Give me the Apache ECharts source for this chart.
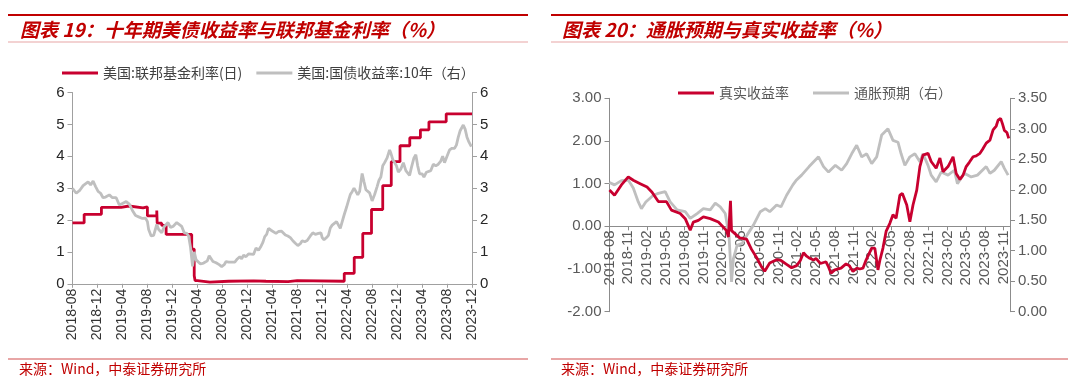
<!DOCTYPE html>
<html><head><meta charset="utf-8">
<script src="https://cdn.jsdelivr.net/npm/echarts@6/dist/echarts.min.js"></script>
<style>html,body{margin:0;padding:0;background:#fff}#c{width:1080px;height:391px}</style>
</head><body><div id="c"></div>
<script>
// ---------- texts ----------
const title1 = '图表 19：十年期美债收益率与联邦基金利率（%）';
const title2 = '图表 20：通胀预期与真实收益率（%）';
const sourceText = '来源：Wind，中泰证券研究所';
const names1 = ['美国:联邦基金利率(日)', '美国:国债收益率:10年（右）'];
const names2 = ['真实收益率', '通胀预期（右）'];

// ---------- tick labels ----------
const xLabels1 = ['2018-08','2018-12','2019-04','2019-08','2019-12','2020-04','2020-08','2020-12','2021-04','2021-08','2021-12','2022-04','2022-08','2022-12','2023-04','2023-08','2023-12'];
const xLabels2 = ['2018-08','2018-11','2019-02','2019-05','2019-08','2019-11','2020-02','2020-05','2020-08','2020-11','2021-02','2021-05','2021-08','2021-11','2022-02','2022-05','2022-08','2022-11','2023-02','2023-05','2023-08','2023-11'];

// ---------- data: chart 1 ----------
const fedFunds = [['2018-08-01',1.91],['2018-09-27',2.18],['2018-12-20',2.40],['2019-03-25',2.44],['2019-05-02',2.38],['2019-07-10',2.41],['2019-08-01',2.13],['2019-09-16',2.30],['2019-09-18',1.90],['2019-10-10',1.83],['2019-10-31',1.55],['2020-03-04',1.09],['2020-03-16',0.25],['2020-03-20',0.10],['2020-04-01',0.05],['2020-06-01',0.08],['2020-09-01',0.09],['2021-01-01',0.08],['2021-03-01',0.07],['2021-06-17',0.10],['2021-08-01',0.08],['2022-03-17',0.33],['2022-05-05',0.83],['2022-06-16',1.58],['2022-07-28',2.33],['2022-09-22',3.08],['2022-11-03',3.83],['2022-12-15',4.33],['2023-02-02',4.58],['2023-03-23',4.83],['2023-05-04',5.08],['2023-07-27',5.33],['2023-12-01',5.33]];
const us10y = [['2018-08-01',2.99],['2018-08-19',2.84],['2018-09-07',2.94],['2018-09-22',3.08],['2018-10-16',3.20],['2018-10-28',3.10],['2018-11-10',3.22],['2018-11-22',3.05],['2018-12-04',2.90],['2018-12-16',2.84],['2018-12-28',2.70],['2019-01-10',2.72],['2019-01-28',2.79],['2019-02-13',2.70],['2019-03-01',2.70],['2019-03-16',2.47],['2019-04-01',2.52],['2019-04-19',2.58],['2019-05-04',2.50],['2019-05-19',2.30],['2019-06-04',2.14],['2019-06-19',2.10],['2019-07-07',2.05],['2019-07-22',2.06],['2019-08-01',1.95],['2019-08-07',1.70],['2019-08-19',1.50],['2019-09-01',1.52],['2019-09-16',1.86],['2019-09-25',1.70],['2019-10-10',1.60],['2019-10-22',1.80],['2019-10-28',1.84],['2019-11-10',1.92],['2019-11-22',1.77],['2019-12-04',1.80],['2019-12-22',1.92],['2020-01-01',1.90],['2020-01-16',1.80],['2020-01-28',1.60],['2020-02-10',1.58],['2020-02-19',1.50],['2020-02-28',1.15],['2020-03-04',0.80],['2020-03-08',0.55],['2020-03-16',1.00],['2020-03-25',0.75],['2020-04-16',0.62],['2020-05-01',0.65],['2020-05-19',0.72],['2020-05-28',0.88],['2020-06-04',0.85],['2020-06-16',0.70],['2020-07-01',0.66],['2020-07-16',0.60],['2020-07-28',0.54],['2020-08-10',0.60],['2020-08-19',0.70],['2020-09-01',0.68],['2020-09-16',0.68],['2020-10-01',0.68],['2020-10-13',0.78],['2020-10-25',0.85],['2020-11-04',0.78],['2020-11-13',0.90],['2020-11-25',0.85],['2020-12-07',0.94],['2020-12-19',0.93],['2021-01-01',0.92],['2021-01-13',1.12],['2021-01-25',1.05],['2021-02-07',1.18],['2021-02-16',1.30],['2021-02-25',1.48],['2021-03-04',1.55],['2021-03-13',1.74],['2021-03-25',1.68],['2021-04-04',1.72],['2021-04-19',1.58],['2021-05-01',1.64],['2021-05-16',1.65],['2021-06-04',1.53],['2021-06-16',1.50],['2021-06-28',1.45],['2021-07-10',1.35],['2021-07-22',1.27],['2021-08-04',1.20],['2021-08-16',1.26],['2021-08-25',1.35],['2021-09-07',1.32],['2021-09-19',1.36],['2021-10-04',1.50],['2021-10-16',1.60],['2021-10-28',1.55],['2021-11-13',1.58],['2021-11-25',1.60],['2021-12-01',1.45],['2021-12-10',1.38],['2021-12-22',1.45],['2022-01-01',1.52],['2022-01-10',1.75],['2022-01-19',1.84],['2022-01-28',1.78],['2022-02-10',1.95],['2022-02-19',1.93],['2022-02-28',1.74],['2022-03-07',1.78],['2022-03-16',2.15],['2022-03-28',2.40],['2022-04-07',2.60],['2022-04-16',2.80],['2022-04-25',2.89],['2022-05-04',3.00],['2022-05-13',2.90],['2022-05-22',2.79],['2022-06-01',2.90],['2022-06-13',3.46],['2022-06-22',3.20],['2022-07-01',2.95],['2022-07-10',2.99],['2022-07-19',2.85],['2022-08-01',2.60],['2022-08-13',2.80],['2022-08-25',3.05],['2022-09-04',3.25],['2022-09-13',3.35],['2022-09-22',3.70],['2022-10-01',3.80],['2022-10-13',3.95],['2022-10-25',4.20],['2022-11-01',4.10],['2022-11-10',3.90],['2022-11-19',3.80],['2022-11-28',3.70],['2022-12-07',3.50],['2022-12-19',3.60],['2023-01-01',3.80],['2023-01-13',3.55],['2023-01-22',3.50],['2023-02-01',3.40],['2023-02-10',3.65],['2023-02-22',3.95],['2023-03-01',4.05],['2023-03-10',3.70],['2023-03-19',3.45],['2023-04-01',3.45],['2023-04-10',3.35],['2023-04-22',3.50],['2023-05-01',3.45],['2023-05-13',3.55],['2023-05-25',3.75],['2023-06-07',3.70],['2023-06-19',3.75],['2023-07-01',3.85],['2023-07-10',4.00],['2023-07-19',3.80],['2023-08-01',4.00],['2023-08-13',4.20],['2023-08-25',4.25],['2023-09-07',4.25],['2023-09-16',4.35],['2023-09-25',4.60],['2023-10-04',4.80],['2023-10-19',4.98],['2023-10-28',4.85],['2023-11-07',4.60],['2023-11-16',4.45],['2023-11-28',4.30]];

// ---------- data: chart 2 ----------
const realYield = [['2018-08-01',0.85],['2018-08-25',0.73],['2018-09-28',0.97],['2018-11-01',1.16],['2018-11-25',1.08],['2018-12-28',1.00],['2019-02-01',0.92],['2019-02-25',0.80],['2019-03-25',0.58],['2019-05-04',0.58],['2019-05-28',0.38],['2019-07-10',0.30],['2019-08-04',0.18],['2019-08-28',-0.09],['2019-09-13',0.10],['2019-10-07',0.14],['2019-11-01',0.22],['2019-12-04',0.18],['2020-01-13',0.10],['2020-02-07',-0.02],['2020-02-22',-0.10],['2020-03-01',-0.25],['2020-03-11',0.60],['2020-03-16',-0.10],['2020-03-25',-0.10],['2020-04-25',-0.27],['2020-05-28',-0.30],['2020-06-22',-0.54],['2020-07-16',-0.73],['2020-08-10',-0.95],['2020-08-25',-1.05],['2020-09-19',-0.86],['2020-10-22',-0.78],['2020-11-13',-0.80],['2020-12-10',-0.89],['2021-01-04',-0.97],['2021-01-28',-0.92],['2021-02-16',-0.80],['2021-03-01',-0.62],['2021-03-16',-0.70],['2021-04-01',-0.75],['2021-04-19',-0.79],['2021-05-01',-0.75],['2021-05-22',-0.87],['2021-06-19',-0.83],['2021-07-01',-0.95],['2021-07-13',-1.10],['2021-08-01',-1.02],['2021-09-01',-0.98],['2021-09-25',-0.88],['2021-10-10',-0.92],['2021-10-28',-1.06],['2021-11-16',-0.98],['2021-12-01',-1.00],['2021-12-16',-0.98],['2022-01-01',-0.79],['2022-01-28',-0.51],['2022-02-13',-0.51],['2022-02-28',-1.02],['2022-03-07',-0.80],['2022-03-22',-0.51],['2022-04-07',-0.12],['2022-04-25',0.07],['2022-05-10',0.27],['2022-05-25',0.19],['2022-06-13',0.73],['2022-06-25',0.77],['2022-07-16',0.50],['2022-08-01',0.11],['2022-08-16',0.50],['2022-09-04',0.85],['2022-09-19',1.40],['2022-10-04',1.67],['2022-10-28',1.71],['2022-11-13',1.52],['2022-12-07',1.36],['2022-12-25',1.60],['2023-01-10',1.28],['2023-02-04',1.40],['2023-02-28',1.63],['2023-03-13',1.24],['2023-04-01',1.10],['2023-04-16',1.20],['2023-05-01',1.40],['2023-05-16',1.50],['2023-06-04',1.63],['2023-06-19',1.65],['2023-07-07',1.71],['2023-07-19',1.80],['2023-08-07',1.95],['2023-08-25',2.02],['2023-09-10',2.26],['2023-09-25',2.35],['2023-10-04',2.49],['2023-10-16',2.53],['2023-10-25',2.40],['2023-11-04',2.25],['2023-11-16',2.20],['2023-11-25',2.06]];
const breakeven = [['2018-08-01',2.12],['2018-08-25',2.08],['2018-09-28',2.15],['2018-11-01',2.16],['2018-11-25',2.03],['2018-12-19',1.80],['2019-01-04',1.69],['2019-01-25',1.80],['2019-03-01',1.91],['2019-03-25',1.94],['2019-04-28',1.97],['2019-05-22',1.80],['2019-06-25',1.67],['2019-08-04',1.64],['2019-08-28',1.53],['2019-10-01',1.61],['2019-11-01',1.69],['2019-12-04',1.67],['2019-12-28',1.78],['2020-01-22',1.72],['2020-02-16',1.61],['2020-03-04',1.25],['2020-03-16',0.49],['2020-03-25',0.87],['2020-04-13',1.09],['2020-05-07',1.12],['2020-06-01',1.26],['2020-07-01',1.42],['2020-08-04',1.64],['2020-08-28',1.69],['2020-09-19',1.64],['2020-10-22',1.75],['2020-11-13',1.72],['2020-12-10',1.91],['2021-01-10',2.08],['2021-01-25',2.15],['2021-02-22',2.24],['2021-03-28',2.38],['2021-05-13',2.54],['2021-06-07',2.38],['2021-07-01',2.29],['2021-08-04',2.40],['2021-09-04',2.32],['2021-09-28',2.43],['2021-10-22',2.59],['2021-11-16',2.73],['2021-12-10',2.54],['2022-01-04',2.59],['2022-01-28',2.43],['2022-02-22',2.54],['2022-03-16',2.90],['2022-04-16',3.00],['2022-05-10',2.81],['2022-06-04',2.78],['2022-06-19',2.59],['2022-07-07',2.40],['2022-08-01',2.54],['2022-08-25',2.59],['2022-09-19',2.46],['2022-10-04',2.59],['2022-10-28',2.40],['2022-11-13',2.24],['2022-12-07',2.13],['2023-01-01',2.29],['2023-02-04',2.24],['2023-03-04',2.32],['2023-03-19',2.10],['2023-04-22',2.27],['2023-05-25',2.21],['2023-06-25',2.24],['2023-08-07',2.38],['2023-08-25',2.27],['2023-09-16',2.32],['2023-10-19',2.46],['2023-11-04',2.35],['2023-11-22',2.24]];

// ---------- helpers ----------
// month index counted from 2018-08 (the axis origin)
function toM(s){ const p = s.split('-').map(Number); return (p[0]-2018)*12 + (p[1]-8) + (p[2]-1)/30; }
const conv = arr => arr.map(d => [toM(d[0]), d[1]]);

const RED = '#C8002F', GRAY = '#BFBFBF', TITLE_RED = '#C00000', PINK = '#E8A6A6';
const NUM_FONT = '"Liberation Sans", Arial, sans-serif';
const CJK_FONT = '"Noto Sans CJK SC", sans-serif';
const LW = 2.8;

const G1 = {left: 72.5, top: 92.5, width: 399.5, height: 191.3};
const G2 = {left: 609.5, top: 98.3, width: 400.5, height: 213.4};
const Y2MIN = -2, Y2MAX = 3;
// move chart-2 x axis up from the grid bottom to the zero line of its left axis
const X2_OFFSET = -G2.height * (0 - Y2MIN) / (Y2MAX - Y2MIN);

const chart = echarts.init(document.getElementById('c'), null, {renderer: 'canvas'});

function yAx(grid, pos, min, max, interval, lblColor, fmt, lineColor){
  return {
    type: 'value', gridIndex: grid, position: pos, min, max, interval,
    axisLine: {show: true, lineStyle: {color: lineColor, width: 1}},
    axisTick: {show: true, length: 5, lineStyle: {color: lineColor}},
    splitLine: {show: false},
    axisLabel: {fontSize: 15, color: lblColor, fontFamily: NUM_FONT, margin: 8, formatter: fmt}
  };
}

const option = {
  animation: false,
  backgroundColor: '#fff',
  graphic: [
    {type: 'rect', shape: {x: 8, y: 14, width: 520, height: 2}, style: {fill: TITLE_RED}},
    {type: 'rect', shape: {x: 551, y: 14, width: 517, height: 2}, style: {fill: TITLE_RED}},
    {type: 'rect', shape: {x: 8, y: 41.5, width: 520, height: 1}, style: {fill: PINK}},
    {type: 'rect', shape: {x: 551, y: 41.5, width: 517, height: 1}, style: {fill: PINK}},
    {type: 'rect', shape: {x: 8, y: 358, width: 520, height: 2}, style: {fill: PINK}},
    {type: 'rect', shape: {x: 551, y: 358, width: 517, height: 2}, style: {fill: PINK}},
    {type: 'text', x: 20, y: 30, style: {text: title1, font: 'italic bold 19px ' + CJK_FONT, fill: TITLE_RED, verticalAlign: 'middle'}},
    {type: 'text', x: 562, y: 30, style: {text: title2, font: 'italic bold 19px ' + CJK_FONT, fill: TITLE_RED, verticalAlign: 'middle'}},
    {type: 'text', x: 19, y: 369, style: {text: sourceText, font: '14px ' + CJK_FONT, fill: TITLE_RED, verticalAlign: 'middle'}},
    {type: 'text', x: 561, y: 369, style: {text: sourceText, font: '14px ' + CJK_FONT, fill: TITLE_RED, verticalAlign: 'middle'}}
  ],
  legend: [
    {data: names1, left: 57, top: 61, itemWidth: 36, itemHeight: 3, itemGap: 14, icon: 'rect',
     textStyle: {fontSize: 14, color: '#404040', fontFamily: CJK_FONT}},
    {data: names2, left: 673, top: 81, itemWidth: 36, itemHeight: 3, itemGap: 24, icon: 'rect',
     textStyle: {fontSize: 14, color: '#595959', fontFamily: CJK_FONT}}
  ],
  grid: [
    Object.assign({containLabel: false}, G1),
    Object.assign({containLabel: false}, G2)
  ],
  xAxis: [
    {type: 'value', gridIndex: 0, min: 0, max: 64, interval: 4,
     axisLine: {show: true, onZero: false, lineStyle: {color: '#A0A0A0'}},
     axisTick: {show: true, length: 4, lineStyle: {color: '#A0A0A0'}},
     splitLine: {show: false},
     axisLabel: {rotate: 90, fontSize: 14, color: '#333', fontFamily: NUM_FONT, margin: 5,
       formatter: v => (v % 4 === 0 ? (xLabels1[v / 4] || '') : '')}},
    {type: 'value', gridIndex: 1, min: 0, max: 64, interval: 3, position: 'bottom', offset: X2_OFFSET,
     axisLine: {show: true, onZero: false, lineStyle: {color: '#8C8C8C'}},
     axisTick: {show: true, length: 4, lineStyle: {color: '#8C8C8C'}},
     splitLine: {show: false},
     axisLabel: {rotate: 90, fontSize: 15, color: '#595959', fontFamily: NUM_FONT, margin: 4, hideOverlap: false,
       formatter: v => (v % 3 === 0 ? (xLabels2[v / 3] || '') : '')}}
  ],
  yAxis: [
    yAx(0, 'left', 0, 6, 1, '#262626', v => String(v), '#A0A0A0'),
    yAx(0, 'right', 0, 6, 1, '#262626', v => String(v), '#A0A0A0'),
    yAx(1, 'left', Y2MIN, Y2MAX, 1, '#595959', v => v.toFixed(2), '#8C8C8C'),
    yAx(1, 'right', 0, 3.5, 0.5, '#595959', v => v.toFixed(2), '#8C8C8C')
  ],
  series: [
    {name: names1[0], type: 'line', xAxisIndex: 0, yAxisIndex: 0, step: 'end', showSymbol: false,
     lineStyle: {color: RED, width: LW}, itemStyle: {color: RED}, data: conv(fedFunds), z: 2},
    {name: names1[1], type: 'line', xAxisIndex: 0, yAxisIndex: 1, showSymbol: false,
     lineStyle: {color: GRAY, width: LW}, itemStyle: {color: GRAY}, data: conv(us10y), z: 3},
    {name: names2[1], type: 'line', xAxisIndex: 1, yAxisIndex: 3, showSymbol: false,
     lineStyle: {color: GRAY, width: LW}, itemStyle: {color: GRAY}, data: conv(breakeven), z: 2},
    {name: names2[0], type: 'line', xAxisIndex: 1, yAxisIndex: 2, showSymbol: false,
     lineStyle: {color: RED, width: LW}, itemStyle: {color: RED}, data: conv(realYield), z: 3}
  ]
};
chart.setOption(option);
</script>
</body></html>
